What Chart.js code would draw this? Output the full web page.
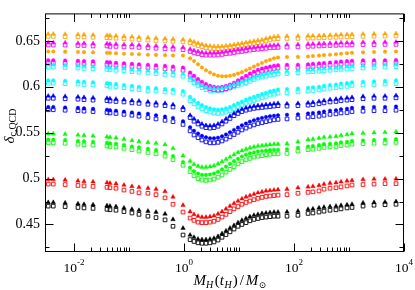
<!DOCTYPE html>
<html>
<head>
<meta charset="utf-8">
<script src="https://cdn.jsdelivr.net/npm/chart.js@4.4.1/dist/chart.umd.min.js"></script>
<style>
  html, body { margin: 0; padding: 0; background: #fff; }
  #chart { display: block; }
</style>
</head>
<body>
<canvas id="chart" width="415" height="290"></canvas>
<script>
// horizon mass M_H(t_H)/M_sun, same grid for every curve
const massValues = [0.0034, 0.0042, 0.0069, 0.0118, 0.0152, 0.0222, 0.0398, 0.0451, 0.058, 0.081, 0.113, 0.152, 0.221, 0.31, 0.452, 0.631, 0.96,
  1.29, 1.52, 1.8, 2.12, 2.51, 2.97, 3.51, 4.15, 4.91, 5.8, 6.86, 8.11, 9.59, 11.3, 13.4, 15.8, 18.7, 22.1, 26.2, 31, 36.6, 43.3, 51.2,
  74.6, 118, 180, 221, 285, 351, 452, 580, 716, 920, 1134, 1800, 2850, 4520, 7160];

const blackTri = [0.474, 0.474, 0.4735, 0.4725, 0.472, 0.4715, 0.4705, 0.470, 0.4695, 0.468, 0.4665, 0.4655, 0.4645, 0.4635, 0.4615, 0.4555, 0.446,
  0.4385, 0.436, 0.434, 0.4335, 0.4335, 0.434, 0.435, 0.437, 0.440, 0.443, 0.446, 0.449, 0.452, 0.4545, 0.4565, 0.4585, 0.460, 0.461, 0.462, 0.4625, 0.463, 0.4635, 0.4635,
  0.4637, 0.4645, 0.4665, 0.467, 0.468, 0.4688, 0.4695, 0.470, 0.4708, 0.4715, 0.472, 0.4735, 0.474, 0.4745, 0.475];
const blackSq = [0.470, 0.470, 0.4695, 0.4685, 0.468, 0.4675, 0.4665, 0.466, 0.4655, 0.464, 0.4625, 0.461, 0.459, 0.4575, 0.455, 0.448, 0.4385,
  0.4335, 0.4315, 0.430, 0.4295, 0.4295, 0.430, 0.431, 0.433, 0.436, 0.439, 0.442, 0.445, 0.448, 0.450, 0.452, 0.454, 0.4555, 0.4565, 0.4575, 0.458, 0.4585, 0.459, 0.459,
  0.459, 0.460, 0.462, 0.4625, 0.4635, 0.4645, 0.4655, 0.466, 0.467, 0.468, 0.4685, 0.470, 0.471, 0.4715, 0.472];

const redTri = [0.499, 0.499, 0.4985, 0.4975, 0.497, 0.4965, 0.4955, 0.495, 0.4945, 0.493, 0.4915, 0.4905, 0.4895, 0.4885, 0.486, 0.480, 0.471,
  0.464, 0.461, 0.459, 0.458, 0.458, 0.4585, 0.4595, 0.4615, 0.464, 0.467, 0.470, 0.473, 0.4755, 0.478, 0.480, 0.4815, 0.483, 0.4845, 0.4855, 0.4865, 0.487, 0.4875, 0.488,
  0.4885, 0.490, 0.491, 0.4915, 0.4925, 0.494, 0.495, 0.4955, 0.4965, 0.4975, 0.498, 0.499, 0.4995, 0.4995, 0.4997];
const redSq = [0.494, 0.494, 0.4935, 0.4925, 0.492, 0.4915, 0.4905, 0.490, 0.4895, 0.4875, 0.486, 0.4845, 0.484, 0.4825, 0.479, 0.472, 0.4635,
  0.457, 0.4545, 0.4525, 0.452, 0.452, 0.4525, 0.4535, 0.4555, 0.458, 0.461, 0.464, 0.467, 0.4695, 0.472, 0.474, 0.4755, 0.477, 0.4785, 0.4795, 0.4805, 0.481, 0.4815, 0.482,
  0.4825, 0.484, 0.485, 0.4855, 0.4865, 0.4885, 0.4895, 0.490, 0.491, 0.492, 0.493, 0.4935, 0.494, 0.4945, 0.4945];

const greenTri = [0.549, 0.549, 0.5485, 0.5475, 0.547, 0.5465, 0.5455, 0.545, 0.5445, 0.543, 0.5415, 0.5405, 0.5395, 0.5385, 0.537, 0.533, 0.525,
  0.519, 0.5155, 0.5135, 0.5125, 0.5125, 0.513, 0.514, 0.516, 0.5185, 0.521, 0.5235, 0.526, 0.5285, 0.5305, 0.532, 0.5335, 0.5345, 0.5355, 0.536, 0.5365, 0.537, 0.5375, 0.5375,
  0.538, 0.540, 0.5425, 0.543, 0.544, 0.545, 0.5455, 0.546, 0.547, 0.548, 0.549, 0.5495, 0.550, 0.5505, 0.551];
const greenCirc = [0.5425, 0.5425, 0.542, 0.541, 0.5405, 0.540, 0.539, 0.5385, 0.538, 0.5365, 0.535, 0.534, 0.5325, 0.531, 0.5285, 0.5245, 0.518,
  0.512, 0.508, 0.5055, 0.504, 0.504, 0.5045, 0.5055, 0.5075, 0.510, 0.513, 0.516, 0.519, 0.5215, 0.524, 0.526, 0.5275, 0.5285, 0.5295, 0.530, 0.5305, 0.531, 0.5315, 0.5315,
  0.532, 0.5335, 0.535, 0.5355, 0.5365, 0.5375, 0.538, 0.5385, 0.5395, 0.540, 0.541, 0.5415, 0.542, 0.5425, 0.543];
const greenSq = [0.539, 0.539, 0.5385, 0.5375, 0.537, 0.5365, 0.5355, 0.535, 0.5345, 0.533, 0.5315, 0.530, 0.5285, 0.527, 0.5245, 0.5205, 0.5145,
  0.5075, 0.503, 0.500, 0.4985, 0.498, 0.4985, 0.4995, 0.5015, 0.504, 0.507, 0.510, 0.513, 0.516, 0.5185, 0.5205, 0.522, 0.5235, 0.5245, 0.525, 0.526, 0.5265, 0.527, 0.527,
  0.5275, 0.530, 0.5315, 0.532, 0.533, 0.534, 0.5345, 0.535, 0.536, 0.5365, 0.5375, 0.538, 0.5385, 0.539, 0.5395];

const blueTri = [0.590, 0.590, 0.5895, 0.589, 0.5885, 0.588, 0.5875, 0.587, 0.5865, 0.586, 0.585, 0.5845, 0.5835, 0.5825, 0.582, 0.5805, 0.5775,
  0.569, 0.565, 0.562, 0.5595, 0.558, 0.5575, 0.558, 0.5595, 0.562, 0.565, 0.568, 0.571, 0.5735, 0.5755, 0.577, 0.578, 0.579, 0.5795, 0.580, 0.5805, 0.581, 0.5815, 0.582,
  0.5815, 0.582, 0.5825, 0.583, 0.584, 0.585, 0.586, 0.5865, 0.5875, 0.588, 0.5885, 0.5895, 0.590, 0.590, 0.5905];
const blueTopSq = [0.5875, 0.5875, 0.587, 0.5865, 0.586, 0.5855, 0.585, 0.5845, 0.584, 0.5835, 0.5825, 0.582, 0.581, 0.580, 0.5795, 0.578, 0.575,
  0.5665, 0.5625, 0.5595, 0.557, 0.5555, 0.555, 0.5555, 0.557, 0.5595, 0.5625, 0.5655, 0.5685, 0.571, 0.573, 0.5745, 0.5755, 0.5765, 0.577, 0.5775, 0.578, 0.5785, 0.579, 0.5795,
  0.579, 0.5795, 0.580, 0.5805, 0.5815, 0.5825, 0.5835, 0.584, 0.585, 0.5855, 0.586, 0.587, 0.5875, 0.5875, 0.588];
const blueCirc = [0.578, 0.578, 0.5775, 0.577, 0.5765, 0.576, 0.575, 0.5745, 0.574, 0.573, 0.572, 0.571, 0.5705, 0.569, 0.5675, 0.566, 0.5625,
  0.556, 0.552, 0.549, 0.5465, 0.545, 0.544, 0.544, 0.5445, 0.546, 0.548, 0.5505, 0.553, 0.5555, 0.558, 0.560, 0.562, 0.5635, 0.565, 0.566, 0.567, 0.568, 0.5685, 0.569,
  0.5695, 0.570, 0.571, 0.5715, 0.572, 0.573, 0.574, 0.5745, 0.5755, 0.576, 0.577, 0.5775, 0.578, 0.578, 0.5785];
const blueSq = [0.575, 0.575, 0.5745, 0.574, 0.5735, 0.573, 0.572, 0.5715, 0.571, 0.570, 0.569, 0.568, 0.5665, 0.565, 0.5635, 0.562, 0.559,
  0.552, 0.5475, 0.5445, 0.542, 0.540, 0.539, 0.539, 0.5395, 0.541, 0.543, 0.5455, 0.548, 0.5505, 0.553, 0.555, 0.557, 0.5585, 0.560, 0.561, 0.562, 0.563, 0.564, 0.5645,
  0.565, 0.566, 0.567, 0.5675, 0.568, 0.569, 0.570, 0.5705, 0.5715, 0.572, 0.573, 0.5735, 0.574, 0.574, 0.5745];

const cyanTri = [0.624, 0.624, 0.6235, 0.623, 0.6225, 0.622, 0.6215, 0.621, 0.6205, 0.620, 0.619, 0.6185, 0.6175, 0.617, 0.616, 0.6155, 0.614,
  0.610, 0.607, 0.604, 0.6015, 0.5995, 0.5985, 0.598, 0.598, 0.5985, 0.5995, 0.601, 0.6025, 0.604, 0.6055, 0.607, 0.6085, 0.6105, 0.612, 0.613, 0.614, 0.615, 0.616, 0.6165,
  0.617, 0.618, 0.6188, 0.619, 0.6195, 0.620, 0.6205, 0.621, 0.6215, 0.622, 0.6225, 0.623, 0.6235, 0.624, 0.6245];
const cyanTopSq = [0.6215, 0.6215, 0.621, 0.6205, 0.620, 0.6195, 0.619, 0.6185, 0.618, 0.6175, 0.6165, 0.616, 0.615, 0.6145, 0.6135, 0.613, 0.6115,
  0.6075, 0.6045, 0.6015, 0.599, 0.597, 0.596, 0.5955, 0.5955, 0.596, 0.597, 0.5985, 0.600, 0.6015, 0.603, 0.6045, 0.606, 0.608, 0.6095, 0.6105, 0.6115, 0.6125, 0.6135, 0.614,
  0.6145, 0.6155, 0.6163, 0.6165, 0.617, 0.6175, 0.618, 0.6185, 0.619, 0.6195, 0.620, 0.6205, 0.621, 0.6215, 0.622];
const cyanCirc = [0.607, 0.607, 0.6065, 0.606, 0.6055, 0.605, 0.604, 0.6035, 0.603, 0.602, 0.601, 0.600, 0.599, 0.5985, 0.5975, 0.597, 0.5955,
  0.589, 0.5855, 0.5825, 0.580, 0.578, 0.5765, 0.5755, 0.575, 0.5755, 0.5765, 0.578, 0.580, 0.582, 0.584, 0.586, 0.5875, 0.589, 0.5905, 0.592, 0.5935, 0.595, 0.596, 0.597,
  0.5975, 0.598, 0.599, 0.5995, 0.600, 0.601, 0.602, 0.6025, 0.6035, 0.604, 0.605, 0.6055, 0.606, 0.6065, 0.607];
const cyanSq = [0.604, 0.604, 0.6035, 0.603, 0.6025, 0.602, 0.601, 0.6005, 0.600, 0.599, 0.598, 0.597, 0.596, 0.5955, 0.5945, 0.594, 0.592,
  0.585, 0.5815, 0.5785, 0.576, 0.574, 0.5725, 0.5715, 0.571, 0.5715, 0.5725, 0.574, 0.576, 0.578, 0.580, 0.582, 0.5835, 0.585, 0.5865, 0.588, 0.5895, 0.591, 0.592, 0.593,
  0.5935, 0.5945, 0.5955, 0.596, 0.5965, 0.5975, 0.5985, 0.599, 0.600, 0.6005, 0.6015, 0.602, 0.6025, 0.603, 0.6035];

const magentaTri = [0.648, 0.648, 0.648, 0.6475, 0.6475, 0.647, 0.647, 0.6465, 0.6465, 0.646, 0.646, 0.6455, 0.645, 0.6445, 0.644, 0.6435, 0.643,
  0.641, 0.6395, 0.6385, 0.6375, 0.637, 0.637, 0.637, 0.6372, 0.6378, 0.6385, 0.639, 0.6398, 0.6405, 0.641, 0.6418, 0.6425, 0.643, 0.6435, 0.644, 0.6445, 0.645, 0.6453, 0.6455,
  0.6458, 0.646, 0.6465, 0.6467, 0.647, 0.6472, 0.6475, 0.6477, 0.648, 0.648, 0.6482, 0.6485, 0.6485, 0.6487, 0.6488];
const magentaTopSq = [0.6455, 0.6455, 0.6455, 0.645, 0.645, 0.6445, 0.6445, 0.644, 0.644, 0.6435, 0.6435, 0.643, 0.6425, 0.642, 0.6415, 0.641, 0.6405,
  0.6385, 0.637, 0.636, 0.635, 0.6345, 0.6345, 0.6345, 0.6347, 0.6353, 0.636, 0.6365, 0.6373, 0.638, 0.6385, 0.6393, 0.640, 0.6405, 0.641, 0.6415, 0.642, 0.6425, 0.6428, 0.643,
  0.6433, 0.6435, 0.644, 0.6442, 0.6445, 0.6447, 0.645, 0.6452, 0.6455, 0.6455, 0.6457, 0.646, 0.646, 0.6462, 0.6463];
const magentaCirc = [0.629, 0.629, 0.6287, 0.6283, 0.628, 0.6277, 0.627, 0.6267, 0.6263, 0.6257, 0.625, 0.6245, 0.624, 0.6235, 0.6228, 0.622, 0.621,
  0.6155, 0.612, 0.6085, 0.6055, 0.603, 0.601, 0.600, 0.5995, 0.600, 0.601, 0.6025, 0.6045, 0.607, 0.6095, 0.612, 0.6145, 0.6165, 0.6185, 0.620, 0.621, 0.622, 0.623, 0.6235,
  0.624, 0.624, 0.6245, 0.625, 0.6255, 0.626, 0.6265, 0.627, 0.6275, 0.628, 0.6284, 0.6288, 0.629, 0.629, 0.6292];
const magentaSq = [0.626, 0.626, 0.6257, 0.6253, 0.625, 0.6247, 0.624, 0.6237, 0.6233, 0.6227, 0.622, 0.6215, 0.621, 0.6205, 0.6198, 0.619, 0.618,
  0.6125, 0.609, 0.6055, 0.6025, 0.600, 0.598, 0.597, 0.5965, 0.597, 0.598, 0.5995, 0.6015, 0.604, 0.6065, 0.609, 0.6115, 0.6135, 0.6155, 0.617, 0.618, 0.619, 0.620, 0.6205,
  0.621, 0.621, 0.6215, 0.622, 0.6225, 0.623, 0.6235, 0.624, 0.6245, 0.625, 0.6254, 0.6258, 0.626, 0.626, 0.6262];

const orangeTri = [0.6575, 0.6575, 0.6572, 0.657, 0.6568, 0.6565, 0.656, 0.6558, 0.6555, 0.655, 0.6545, 0.654, 0.6535, 0.653, 0.6525, 0.652, 0.6515,
  0.6505, 0.649, 0.6475, 0.6462, 0.6452, 0.6445, 0.644, 0.644, 0.6442, 0.6447, 0.6453, 0.646, 0.6467, 0.6475, 0.6483, 0.649, 0.6498, 0.6505, 0.6512, 0.6525, 0.6535, 0.6545, 0.655,
  0.6552, 0.6553, 0.6555, 0.6556, 0.6558, 0.656, 0.6563, 0.6565, 0.6568, 0.657, 0.6572, 0.6575, 0.6577, 0.6578, 0.658];
const orangeTopSq = [0.655, 0.655, 0.6547, 0.6545, 0.6543, 0.654, 0.6535, 0.6533, 0.653, 0.6525, 0.652, 0.6515, 0.651, 0.6505, 0.650, 0.6495, 0.649,
  0.648, 0.6465, 0.645, 0.6437, 0.6427, 0.642, 0.6415, 0.6415, 0.6417, 0.6422, 0.6428, 0.6435, 0.6442, 0.645, 0.6458, 0.6465, 0.6473, 0.648, 0.6487, 0.650, 0.651, 0.652, 0.6525,
  0.6527, 0.6528, 0.653, 0.6531, 0.6533, 0.6535, 0.6538, 0.654, 0.6543, 0.6545, 0.6547, 0.655, 0.6552, 0.6553, 0.6555];
const orangeCirc = [0.6385, 0.6385, 0.6383, 0.638, 0.6378, 0.6375, 0.637, 0.6368, 0.6365, 0.636, 0.6358, 0.6355, 0.635, 0.6348, 0.6345, 0.6342, 0.634,
  0.631, 0.628, 0.6245, 0.621, 0.618, 0.6155, 0.6135, 0.612, 0.6115, 0.6115, 0.612, 0.613, 0.6145, 0.616, 0.618, 0.620, 0.622, 0.624, 0.626, 0.628, 0.6295, 0.631, 0.632,
  0.6325, 0.6326, 0.633, 0.6335, 0.634, 0.6345, 0.635, 0.6355, 0.636, 0.6365, 0.637, 0.6375, 0.638, 0.6383, 0.6385];

// axis ticks
const yMajorTicks = [0.45, 0.5, 0.55, 0.6, 0.65];
const yMinorTicks = [0.425, 0.475, 0.525, 0.575, 0.625, 0.675];
const xMajorTicks = [1e-2, 1, 1e2, 1e4];
const xMajorExp = ['-2', '0', '2', '4'];
const xMinorTicks = [0.02, 0.03, 0.04, 0.05, 0.06, 0.07, 0.08, 0.09, 0.1,
  2, 3, 4, 5, 6, 7, 8, 9, 10,
  200, 300, 400, 500, 600, 700, 800, 900, 1000];

const seriesList = [
  { values: orangeTri, color: '#ffa500', shape: 'tri' },
  { values: magentaTri, color: '#ff00ff', shape: 'tri' },
  { values: cyanTri, color: '#00ffff', shape: 'tri' },
  { values: blueTri, color: '#0000ff', shape: 'tri' },
  { values: greenTri, color: '#00ff00', shape: 'tri' },
  { values: redTri, color: '#ff0000', shape: 'tri' },
  { values: blackTri, color: '#000000', shape: 'tri' },
  { values: orangeCirc, color: '#ffa500', shape: 'circ' },
  { values: magentaCirc, color: '#ff00ff', shape: 'circ' },
  { values: cyanCirc, color: '#00ffff', shape: 'circ' },
  { values: blueCirc, color: '#0000ff', shape: 'circ' },
  { values: greenCirc, color: '#00ff00', shape: 'circ' },
  { values: orangeTopSq, color: '#ffa500', shape: 'sq' },
  { values: magentaTopSq, color: '#ff00ff', shape: 'sq' },
  { values: magentaSq, color: '#ff00ff', shape: 'sq' },
  { values: cyanTopSq, color: '#00ffff', shape: 'sq' },
  { values: cyanSq, color: '#00ffff', shape: 'sq' },
  { values: blueTopSq, color: '#0000ff', shape: 'sq' },
  { values: blueSq, color: '#0000ff', shape: 'sq' },
  { values: greenSq, color: '#00ff00', shape: 'sq' },
  { values: redSq, color: '#ff0000', shape: 'sq' },
  { values: blackSq, color: '#000000', shape: 'sq' }
];

function markerStyle(s) {
  if (s.shape === 'tri') {
    return { pointStyle: 'triangle', pointRadius: 2.6, backgroundColor: s.color, borderColor: s.color, borderWidth: 0.4 };
  }
  if (s.shape === 'circ') {
    return { pointStyle: 'circle', pointRadius: 1.8, backgroundColor: s.color, borderColor: s.color, borderWidth: 0.4 };
  }
  return { pointStyle: 'rect', pointRadius: 2.6, backgroundColor: 'rgba(0,0,0,0)', borderColor: s.color, borderWidth: 0.9 };
}

const datasets = seriesList.map(s => ({
  data: massValues.map((m, i) => ({ x: m, y: s.values[i] })),
  showLine: false,
  ...markerStyle(s)
}));

const SERIF = '"Liberation Serif", "DejaVu Serif", serif';

// draws pieces of text (with sub/superscripts) centred on cx
function drawRich(ctx, parts, cx, baseY) {
  let total = 0;
  parts.forEach(p => {
    ctx.font = (p.italic ? 'italic ' : '') + p.size + 'px ' + SERIF;
    p.w = ctx.measureText(p.t).width + (p.gap || 0);
    total += p.w;
  });
  let x = cx - total / 2;
  ctx.textAlign = 'left';
  ctx.textBaseline = 'alphabetic';
  parts.forEach(p => {
    ctx.font = (p.italic ? 'italic ' : '') + p.size + 'px ' + SERIF;
    ctx.fillText(p.t, x, baseY + (p.dy || 0));
    x += p.w;
  });
}

const axisDecor = {
  id: 'axisDecor',
  afterDraw(chart) {
    const { ctx, chartArea: a } = chart;
    const xs = chart.scales.x, ys = chart.scales.y;
    ctx.save();
    ctx.strokeStyle = '#000';
    ctx.fillStyle = '#000';
    ctx.lineWidth = 1;
    const L = a.left + 0.5, R = Math.round(a.right) - 0.5, T = a.top + 0.5, B = Math.round(a.bottom) - 0.5;
    ctx.strokeRect(L, T, R - L, B - T);

    ctx.beginPath();
    const yTick = (v, len) => {
      const py = Math.round(ys.getPixelForValue(v)) + 0.5;
      ctx.moveTo(L, py); ctx.lineTo(L + len, py);
      ctx.moveTo(R, py); ctx.lineTo(R - len, py);
    };
    const xTick = (v, len) => {
      const px = Math.round(xs.getPixelForValue(v)) + 0.5;
      ctx.moveTo(px, B); ctx.lineTo(px, B - len);
      ctx.moveTo(px, T); ctx.lineTo(px, T + len);
    };
    yMajorTicks.forEach(v => yTick(v, 8));
    yMinorTicks.forEach(v => yTick(v, 4));
    xMajorTicks.forEach(v => xTick(v, 8));
    xMinorTicks.forEach(v => xTick(v, 4));
    ctx.stroke();

    // x tick labels 10^n
    xMajorTicks.forEach((v, i) => {
      const px = xs.getPixelForValue(v);
      drawRich(ctx, [
        { t: '10', size: 13.5 },
        { t: xMajorExp[i], size: 9, dy: -7 }
      ], px, 272);
    });

    // x axis title
    drawRich(ctx, [
      { t: 'M', size: 15, italic: true },
      { t: 'H', size: 10, italic: true, dy: 3, gap: 1.5 },
      { t: '(', size: 15 },
      { t: 't', size: 15, italic: true, gap: 0.5 },
      { t: 'H', size: 10, italic: true, dy: 3, gap: 1 },
      { t: ')', size: 15, gap: 2 },
      { t: '/', size: 15, gap: 2 },
      { t: 'M', size: 15, italic: true, gap: 0.5 },
      { t: '\u2299', size: 9, dy: 3 }
    ], 230, 285);

    // y axis title
    ctx.translate(14, 126);
    ctx.rotate(-Math.PI / 2);
    drawRich(ctx, [
      { t: '\u03b4', size: 15, italic: true },
      { t: 'c,QCD', size: 10, dy: 2 }
    ], 0, 0);
    ctx.restore();
  }
};

new Chart(document.getElementById('chart'), {
  type: 'scatter',
  data: { datasets },
  options: {
    responsive: false,
    devicePixelRatio: 1,
    animation: false,
    layout: { padding: { top: 1, right: 11, left: 0, bottom: 0 } },
    plugins: { legend: { display: false }, tooltip: { enabled: false } },
    scales: {
      x: {
        type: 'logarithmic',
        min: 0.00297,
        max: 10000,
        grid: { display: false, drawTicks: false },
        border: { display: false },
        ticks: { display: false },
        afterFit: scale => { scale.height = 38; }
      },
      y: {
        type: 'linear',
        min: 0.42,
        max: 0.68,
        grid: { display: false, drawTicks: false },
        border: { display: false },
        afterBuildTicks: scale => { scale.ticks = yMajorTicks.map(v => ({ value: v })); },
        ticks: {
          padding: 5,
          color: '#000',
          font: { family: SERIF, size: 14 },
          callback: v => String(v)
        },
        afterFit: scale => { scale.width = 45; }
      }
    }
  },
  plugins: [axisDecor]
});
</script>
</body>
</html>
